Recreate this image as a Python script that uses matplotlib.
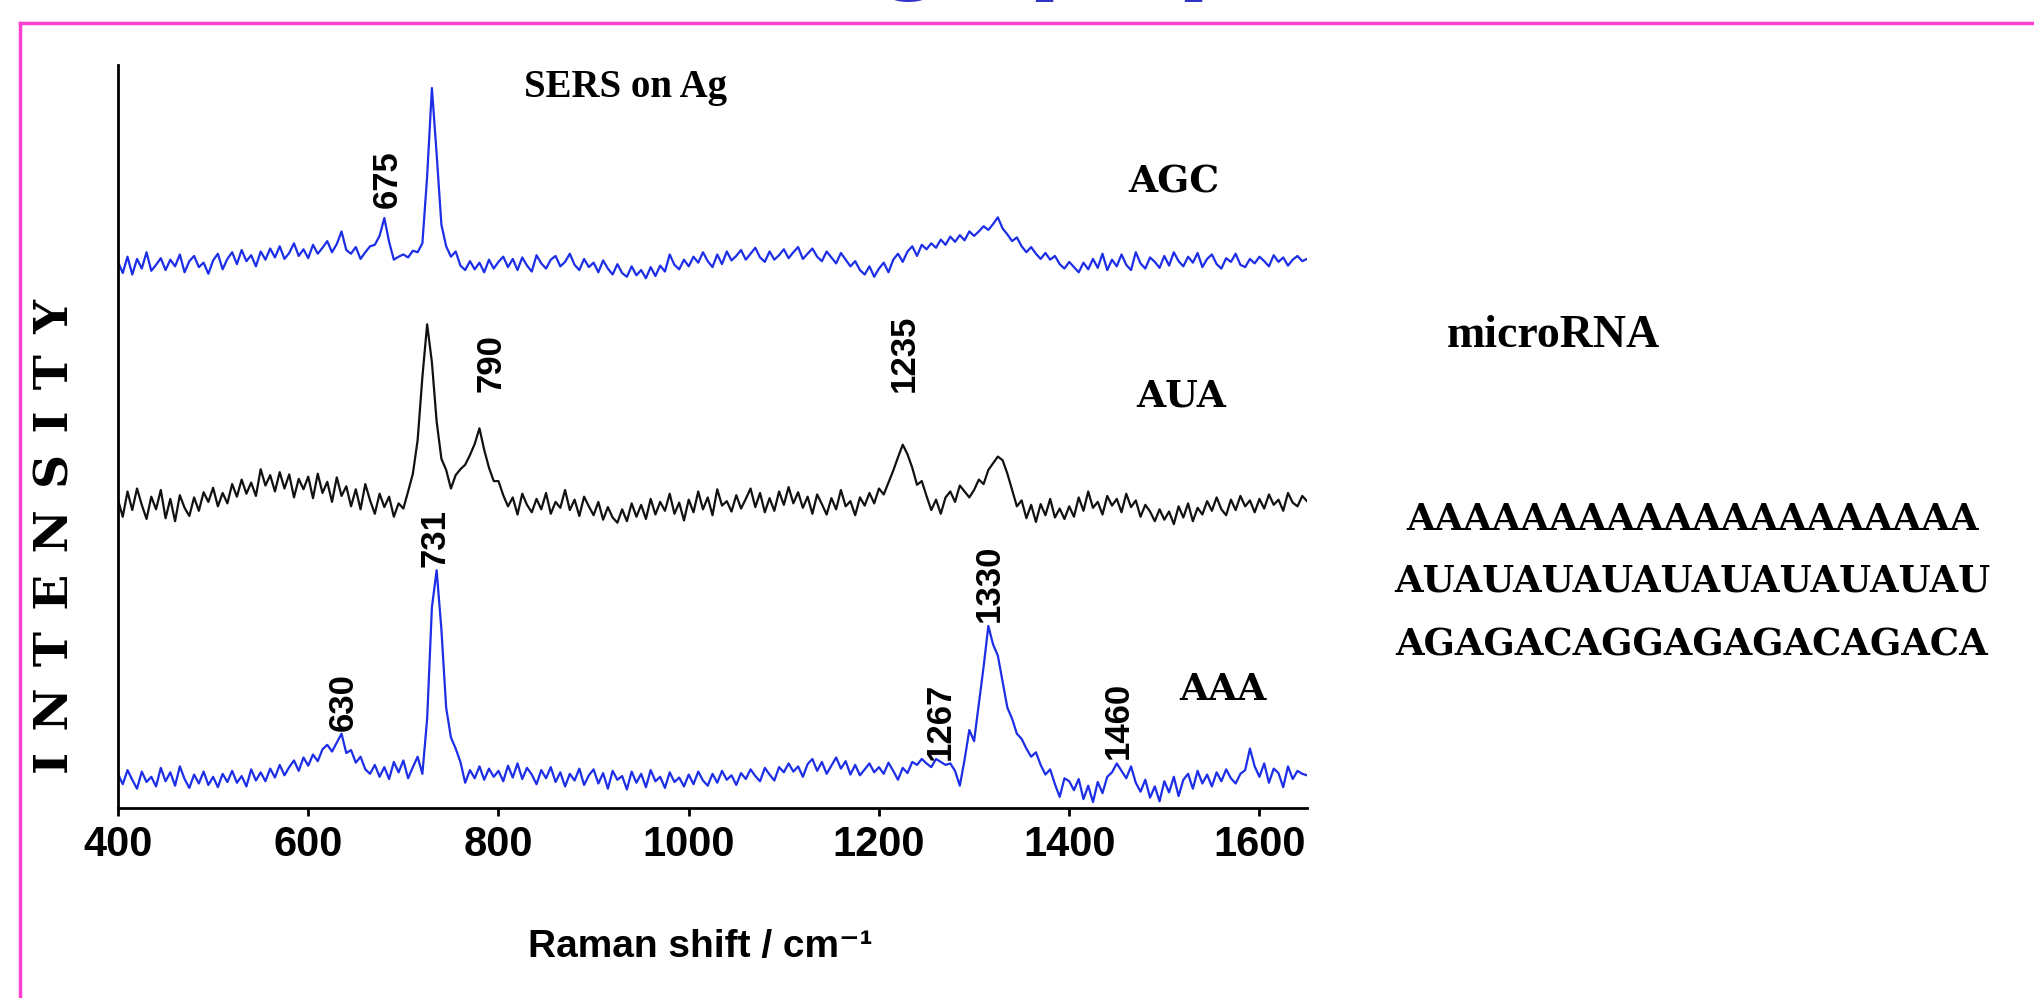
import numpy as np
import matplotlib
matplotlib.use('Agg')
import matplotlib.pyplot as plt
from matplotlib.lines import Line2D

# Raman shift grid (cm-1), one reading every 5 cm-1
shift = np.arange(400, 1651, 5)

# arbitrary intensity units (traces already offset)
agc = [
    73.5, 72.0, 74.2, 71.8, 73.9, 72.6, 74.8, 72.3, 73.1, 74.0,
    72.4, 73.8, 72.9, 74.5, 72.1, 73.6, 74.3, 72.8, 73.4, 71.9,
    73.7, 74.6, 72.5, 73.9, 74.8, 73.2, 75.1, 73.6, 74.4, 72.9,
    74.9, 73.8, 75.3, 74.1, 75.6, 73.9, 74.7, 76.0, 74.3, 75.2,
    74.0, 75.8, 74.6, 75.4, 76.3, 74.8, 75.9, 77.6, 75.1, 74.6,
    75.5, 73.9, 74.8, 75.6, 75.8, 77.0, 79.4, 76.2, 73.8, 74.2,
    74.5, 74.1, 75.0, 74.8, 76.0, 85.0, 96.9, 88.0, 78.5, 75.6,
    74.2, 74.9, 73.0, 72.4, 73.6, 72.5, 73.4, 72.1, 73.8, 72.6,
    73.5, 74.2, 72.8, 73.9, 72.4, 74.1, 73.0, 72.2, 74.4, 73.3,
    72.6, 73.8, 74.3, 72.9, 73.5, 74.6, 73.1, 72.4, 73.9, 72.8,
    73.4, 72.1, 73.7, 72.6, 71.8, 73.2, 72.0, 71.5, 72.9, 71.7,
    72.4, 71.3, 72.8, 71.6, 73.0, 72.2, 74.5, 73.1, 72.5, 73.8,
    72.9, 74.2, 73.4, 74.8, 73.6, 72.8, 74.5, 73.2, 74.9, 73.7,
    74.3, 75.1, 73.8, 74.6, 75.4, 74.1, 73.5, 74.9, 73.8, 74.4,
    75.2, 74.0, 74.8, 75.5, 73.9, 74.6, 75.3, 74.2, 73.6, 74.9,
    74.1, 73.3, 74.7, 73.8, 72.9, 73.6, 72.4, 71.8, 72.9, 71.5,
    72.6, 73.4, 72.1, 73.8, 74.6, 73.5, 74.9, 75.6, 74.3, 75.8,
    75.2, 76.0, 75.4, 76.5, 75.8, 76.9, 76.2, 77.1, 76.4, 77.6,
    77.0, 77.6, 78.3, 77.8, 78.6, 79.5, 78.0, 77.2, 76.3, 76.8,
    75.6, 74.8, 75.5, 74.6, 73.9, 74.7, 73.8, 74.3, 73.2, 72.6,
    73.5, 72.8, 72.1, 73.4, 72.5, 73.9, 72.7, 74.6, 72.4, 73.8,
    72.9, 74.5, 73.1, 72.4, 74.8, 73.3, 72.6, 74.1, 73.5, 72.7,
    74.3, 73.0, 74.8, 73.6, 72.9, 74.2, 73.4, 74.7, 72.8, 73.9,
    74.5, 73.2, 72.6, 74.0, 73.5, 74.6, 73.1, 72.8, 73.9, 73.3,
    74.2, 73.6, 72.9, 74.4, 73.5, 74.1, 73.0, 73.8, 74.3, 73.6,
    73.9,
]

aua = [
    41.5, 39.2, 42.6, 40.1, 43.0, 40.8, 38.9, 41.9, 40.2, 42.8,
    39.0, 41.6, 38.6, 42.1, 40.4, 39.3, 41.8, 40.0, 42.5, 41.2,
    43.1, 40.6, 42.4, 41.0, 43.6, 41.9, 44.2, 42.3, 43.8, 42.0,
    45.6, 43.4, 44.8, 42.6, 45.2, 43.0, 44.9, 41.8, 44.3, 42.9,
    44.6, 41.7, 45.0, 42.4, 43.9, 41.2, 44.5, 42.0, 43.3, 40.6,
    42.9, 40.2, 43.6, 41.4, 39.6, 42.3, 40.5, 41.9, 39.2, 41.0,
    40.3, 42.6, 45.0, 49.5, 58.0, 65.1, 60.0, 52.0, 47.0, 45.5,
    43.0, 44.8, 45.6, 46.2, 47.5, 49.0, 51.1, 48.2, 45.8, 44.0,
    44.0, 42.1, 40.6, 41.8, 39.5, 42.3, 40.8, 39.8, 41.6, 40.2,
    42.4, 39.6, 41.2, 40.4, 42.8, 40.1, 41.5, 39.3, 41.9, 40.6,
    39.4, 41.2, 38.8, 40.5, 39.1, 38.4, 40.2, 38.6, 41.0, 39.2,
    40.8, 38.9, 41.6, 39.5, 41.2, 40.0, 42.3, 39.6, 41.1, 38.7,
    41.5, 39.8, 42.6, 40.2, 41.8, 39.4, 42.9, 40.7, 41.3, 39.9,
    42.1, 40.3, 41.6, 43.0, 40.5, 42.4, 39.8, 41.7, 40.0, 42.6,
    40.8, 43.2, 41.0, 42.5, 40.4, 41.9, 39.6, 42.2, 40.9, 39.5,
    41.7, 40.2, 42.8, 40.6, 41.3, 39.4, 41.8, 40.7, 42.4, 41.0,
    43.0, 42.2, 43.8, 45.4, 47.2, 48.9, 47.6, 45.8, 43.5, 44.0,
    42.0, 40.1, 41.5, 39.6, 41.8, 42.6, 41.2, 43.4, 42.6, 41.8,
    42.8, 44.2, 43.6, 45.5, 46.4, 47.3, 46.8, 45.0, 42.8, 40.6,
    41.4, 39.0, 40.8, 38.5, 40.9, 39.4, 41.6, 39.1, 40.3, 38.9,
    40.6, 39.2, 41.8, 40.0, 42.6, 40.4, 41.2, 39.5, 42.0, 40.7,
    41.6, 39.8, 42.3, 40.5, 41.4, 39.2, 40.8, 39.9, 38.6, 40.2,
    38.8, 39.9, 38.2, 40.6, 39.1, 41.0, 38.6, 40.4, 39.5, 41.3,
    40.0, 41.8, 40.2, 39.4, 41.5, 40.1, 42.0, 40.6, 41.4, 39.8,
    41.6, 40.3, 42.2, 40.8, 41.5, 40.0, 42.4, 41.1, 40.6, 42.0,
    41.3,
]

aaa = [
    4.6, 3.2, 5.1, 3.8, 2.6, 4.9, 3.5, 4.2, 2.9, 5.4,
    3.6, 4.8, 3.0, 5.6, 3.9, 2.7, 4.5, 3.3, 4.9, 3.1,
    4.2, 2.8, 4.6, 3.5, 5.0, 3.4, 4.3, 2.9, 5.2, 3.7,
    4.8, 3.6, 5.3, 4.1, 5.8, 4.4, 5.5, 6.4, 5.0, 6.8,
    5.7, 7.2, 6.3, 7.9, 8.5, 7.6, 8.8, 10.0, 7.4, 7.8,
    6.1, 6.9, 5.2, 4.6, 5.8, 4.2, 5.5, 3.9, 6.2, 4.8,
    6.4, 4.0, 5.5, 6.9, 4.6, 12.0, 27.0, 32.0, 24.0, 13.5,
    9.5, 8.0, 6.2, 3.4, 5.1, 4.0, 5.6, 3.8, 5.3, 4.2,
    5.0, 3.6, 5.7, 4.1, 6.0, 3.9, 5.4, 4.5, 3.2, 5.1,
    4.0, 5.5, 3.5, 4.8, 2.9, 4.6, 3.7, 5.3, 3.1, 4.4,
    5.2, 3.3, 4.7, 2.6, 5.0, 3.8, 4.3, 2.5, 4.9, 3.4,
    4.6, 2.8, 5.1, 3.6, 4.2, 2.7, 4.8, 3.5, 4.1, 2.9,
    4.5, 3.2, 4.9, 3.7, 3.0, 4.6, 3.4, 5.0, 3.8, 4.4,
    3.1, 4.7, 3.9, 5.2, 4.3, 3.6, 5.4, 4.5, 3.7, 5.5,
    4.8, 6.0, 4.9, 5.6, 4.2, 5.9, 6.6, 5.0, 6.2, 4.6,
    5.7, 6.8, 5.3, 6.3, 4.5, 5.8, 4.4, 5.2, 6.0, 4.8,
    5.5, 4.6, 6.1, 5.0, 3.8, 5.4, 4.7, 6.2, 5.8, 6.6,
    6.0, 5.5, 6.6, 6.2, 5.8, 6.0, 5.0, 3.0, 6.5, 10.5,
    9.0, 14.0, 19.0, 24.5, 22.0, 20.5, 17.0, 13.5, 12.0, 10.0,
    9.3, 8.0, 6.9, 7.5, 5.8, 4.5, 5.2, 3.2, 1.5, 4.0,
    3.6, 2.4, 3.9, 1.2, 3.0, 0.8, 3.5, 2.0, 4.2, 4.8,
    6.0, 5.0, 4.0, 5.6, 3.4, 2.2, 3.8, 1.4, 2.9, 0.9,
    3.6, 2.1, 4.2, 1.6, 3.8, 4.6, 2.6, 5.0, 3.3, 4.5,
    2.9, 4.8, 3.6, 5.2, 4.0, 3.3, 4.6, 5.1, 8.0, 5.6,
    4.2, 6.0, 3.4, 5.3, 4.7, 2.8, 5.6, 3.9, 5.0, 4.6,
    4.4,
]

trace_names = ['AGC', 'AUA', 'AAA']
trace_colors = ['#1c2ee6', '#111111', '#1c2ee6']

# peak annotations
peak_labels = ['675', '790', '1235', '731', '630', '1267', '1330', '1460']
peak_pos = [683, 792, 1227, 733, 637, 1264, 1316, 1452]
peak_base = [80.8, 56.0, 56.0, 32.5, 10.4, 6.4, 25.0, 6.6]

sequences = ['A' * 20, 'AU' * 10, 'AGAGACAGGAGAGACAGACA']
xticks = [400, 600, 800, 1000, 1200, 1400, 1600]

W, H = 2034, 998
fig = plt.figure(figsize=(W / 100, H / 100), dpi=100)
fig.patch.set_facecolor('white')

ax = fig.add_axes([118 / W, 190 / H, (1307 - 118) / W, (808 - 65) / H])
for ys, c in zip([agc, aua, aaa], trace_colors):
    ax.plot(shift, ys, color=c, lw=1.6)

ax.set_xlim(400, 1650)
ax.set_ylim(0, 100)
ax.set_yticks([])
ax.set_xticks(xticks)
ax.set_xticklabels([str(t) for t in xticks], fontsize=30, fontweight='bold',
                   family='Liberation Sans')
ax.tick_params(axis='x', direction='out', length=6, width=2, pad=6)
for s in ['top', 'right']:
    ax.spines[s].set_visible(False)
for s in ['left', 'bottom']:
    ax.spines[s].set_linewidth(2)

# trace names
for name, (tx, ty) in zip(trace_names, [(1510, 84.2), (1518, 55.4), (1562, 16.0)]):
    ax.text(tx, ty, name, family='DejaVu Serif', weight='bold', fontsize=27,
            ha='center', va='center')

for lab, px, py in zip(peak_labels, peak_pos, peak_base):
    ax.text(px, py, lab, rotation=90, family='Liberation Sans', weight='bold',
            fontsize=25, ha='center', va='bottom')

fig.text(626 / W, 1 - 88 / H, 'SERS on Ag', family='Liberation Serif',
         weight='bold', fontsize=28, ha='center', va='center')
fig.text(700 / W, 1 - 947 / H, 'Raman shift / cm\u207b\u00b9',
         family=['Liberation Sans', 'DejaVu Sans'], weight='bold', fontsize=28,
         ha='center', va='center')
fig.text(56 / W, 1 - 536 / H, ' \u200a'.join('INTENSITY'), rotation=90,
         family='DejaVu Serif', weight='bold', fontsize=34,
         ha='center', va='center')

fig.text(1553 / W, 1 - 336 / H, 'microRNA', family='Liberation Serif',
         weight='bold', fontsize=33, ha='center', va='center')
for seq, yy in zip(sequences, [520, 582, 646]):
    fig.text(1692 / W, 1 - yy / H, seq, family='DejaVu Serif', weight='bold',
             fontsize=26.5, ha='center', va='center')

# slide frame and the bottom of the cut-off title
fig.add_artist(Line2D([20 / W, 1], [1 - 23 / H] * 2, color='#ff40d0', lw=2.5))
fig.add_artist(Line2D([20 / W] * 2, [0, 1 - 23 / H], color='#ff40d0', lw=2.5))
for ch, xx, ha in [('g', 910, 'center'), ('p', 1027, 'left'), ('p', 1176, 'left')]:
    fig.text(xx / W, 1 + 25 / H, ch, family='Liberation Sans', weight='bold',
             fontsize=92, color='#3232c8', ha=ha, va='baseline')

fig.savefig('out.png', dpi=100)
